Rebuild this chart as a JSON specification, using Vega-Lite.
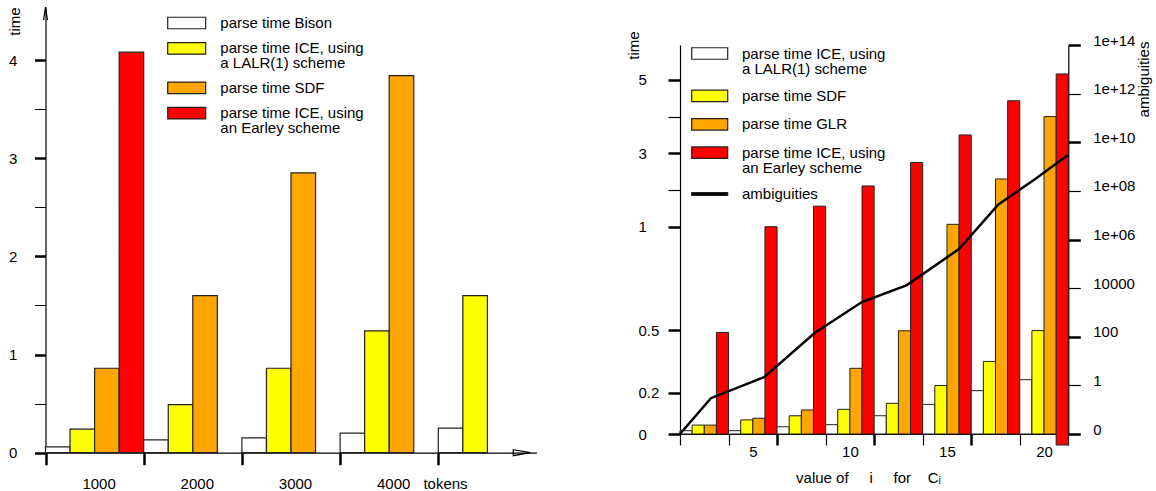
{
  "$schema": "https://vega.github.io/schema/vega-lite/v6.json",
  "width": 1156,
  "height": 491,
  "autosize": {"type": "none"},
  "padding": 0,
  "background": "white",
  "config": {
    "view": {"stroke": null},
    "font": "Liberation Sans",
    "axis": {"grid": false, "domainColor": "#000", "domainWidth": 1.2, "tickColor": "#000", "labelColor": "#000", "labelFontSize": 15, "titleFontSize": 15, "titleFontWeight": "normal", "titleColor": "#000", "labelFont": "Liberation Sans", "titleFont": "Liberation Sans"},
    "legend": {"labelFontSize": 15, "labelFont": "Liberation Sans", "labelColor": "#000", "padding": 0, "labelLimit": 400}
  },
  "layer": [
    {
      "data": {"values": [
        {"tokens": 1000, "series": "parse time Bison", "time": 0.06},
        {"tokens": 1000, "series": "parse time ICE, using a LALR(1) scheme", "time": 0.24},
        {"tokens": 1000, "series": "parse time SDF", "time": 0.86},
        {"tokens": 1000, "series": "parse time ICE, using an Earley scheme", "time": 4.08},
        {"tokens": 2000, "series": "parse time Bison", "time": 0.13},
        {"tokens": 2000, "series": "parse time ICE, using a LALR(1) scheme", "time": 0.49},
        {"tokens": 2000, "series": "parse time SDF", "time": 1.6},
        {"tokens": 3000, "series": "parse time Bison", "time": 0.15},
        {"tokens": 3000, "series": "parse time ICE, using a LALR(1) scheme", "time": 0.86},
        {"tokens": 3000, "series": "parse time SDF", "time": 2.85},
        {"tokens": 4000, "series": "parse time Bison", "time": 0.2},
        {"tokens": 4000, "series": "parse time ICE, using a LALR(1) scheme", "time": 1.24},
        {"tokens": 4000, "series": "parse time SDF", "time": 3.84},
        {"tokens": 5000, "series": "parse time Bison", "time": 0.25},
        {"tokens": 5000, "series": "parse time ICE, using a LALR(1) scheme", "time": 1.6}
      ]},
      "layer": [
        {
          "mark": {"type": "bar", "stroke": "#222", "strokeWidth": 1.2},
          "encoding": {
            "x": {"field": "tokens", "type": "ordinal",
              "scale": {"range": [45.5, 536.5], "paddingInner": 0, "paddingOuter": 0},
              "axis": {"orient": "bottom", "offset": -38.3, "tickBand": "extent", "tickSize": 12, "tickWidth": 2.5,
                "tickOpacity": {"condition": {"test": "datum.value == 5000", "value": 0}, "value": 1},
                "labelExpr": "datum.value == 5000 ? '' : datum.label", "labelOffset": 4, "labelPadding": 12, "labelAngle": 0,
                "title": "tokens", "titleX": 445, "titleY": 30.6, "titleBaseline": "middle", "titleAlign": "center"}},
            "xOffset": {"field": "series", "type": "nominal",
              "scale": {"domain": ["parse time Bison", "parse time ICE, using a LALR(1) scheme", "parse time SDF", "parse time ICE, using an Earley scheme"], "paddingInner": 0, "paddingOuter": 0}},
            "y": {"field": "time", "type": "quantitative",
              "scale": {"domain": [0, 4.54], "range": [452.7, 7], "nice": false, "zero": false},
              "axis": {"orient": "left", "offset": -45.5, "values": [0, 0.5, 1, 1.5, 2, 2.5, 3, 3.5, 4], "format": "~g", "tickSize": 11,
                "tickWidth": {"condition": {"test": "datum.value % 1 == 0", "value": 2.5}, "value": 1},
                "labelExpr": "datum.value % 1 == 0 ? datum.label : ''", "labelAlign": "left", "labelPadding": 26, "labelBaseline": "middle",
                "title": "time", "titleAngle": 270, "titleX": -30.7, "titleY": 21, "titleAlign": "center", "titleBaseline": "middle"}},
            "color": {"field": "series", "type": "nominal",
              "scale": {"domain": ["parse time Bison", "parse time ICE, using a LALR(1) scheme", "parse time SDF", "parse time ICE, using an Earley scheme"], "range": ["#ffffff", "#ffff00", "#ffa500", "#ff0000"]},
              "legend": {"orient": "none", "legendX": 178.7, "legendY": 15, "title": null,
                "symbolType": "M-2.714,-0.82H2.714V0.82H-2.714Z", "symbolSize": 196, "symbolStrokeColor": "#222", "symbolStrokeWidth": 1.2,
                "labelOffset": 25.6, "rowPadding": 7.4, "labelBaseline": "middle",
                "labelExpr": "indexof(datum.label, ', using ') > 0 ? [slice(datum.label, 0, indexof(datum.label, ', using ') + 7), slice(datum.label, indexof(datum.label, ', using ') + 8)] : datum.label",
                "encode": {"labels": {"update": {"lineHeight": {"value": 15}}}, "symbols": {"update": {"stroke": {"value": "#222"}, "strokeWidth": {"value": 1.2}}}}}}
          }
        },
        {
          "data": {"values": [{"arrow": "time axis"}]},
          "mark": {"type": "point", "shape": "M-0.3,1L0,-1L0.3,1", "size": 169, "filled": false, "stroke": "#000", "strokeWidth": 1.2, "opacity": 1},
          "encoding": {
            "x": {"datum": 1000, "type": "ordinal", "bandPosition": 0},
            "y": {"datum": 4.473, "type": "quantitative"}
          }
        },
        {
          "data": {"values": [{"arrow": "tokens axis"}]},
          "mark": {"type": "point", "shape": "M-1,-0.35L1,0L-1,0.35Z", "size": 289, "filled": false, "stroke": "#000", "strokeWidth": 1.2, "opacity": 1},
          "encoding": {
            "x": {"datum": 5000, "type": "ordinal", "bandPosition": 0.85},
            "y": {"datum": 0, "type": "quantitative"}
          }
        }
      ]
    },
    {
      "data": {"values": [
        {"i": 2.5, "series": "parse time ICE, using a LALR(1) scheme", "time": 0.016, "from": 0},
        {"i": 2.5, "series": "parse time SDF", "time": 0.043, "from": 0},
        {"i": 2.5, "series": "parse time GLR", "time": 0.043, "from": 0},
        {"i": 2.5, "series": "parse time ICE, using an Earley scheme", "time": 0.49, "from": 0},
        {"i": 5, "series": "parse time ICE, using a LALR(1) scheme", "time": 0.016, "from": 0},
        {"i": 5, "series": "parse time SDF", "time": 0.068, "from": 0},
        {"i": 5, "series": "parse time GLR", "time": 0.076, "from": 0},
        {"i": 5, "series": "parse time ICE, using an Earley scheme", "time": 1.0, "from": 0},
        {"i": 7.5, "series": "parse time ICE, using a LALR(1) scheme", "time": 0.035, "from": 0},
        {"i": 7.5, "series": "parse time SDF", "time": 0.088, "from": 0},
        {"i": 7.5, "series": "parse time GLR", "time": 0.116, "from": 0},
        {"i": 7.5, "series": "parse time ICE, using an Earley scheme", "time": 1.56, "from": 0},
        {"i": 10, "series": "parse time ICE, using a LALR(1) scheme", "time": 0.045, "from": 0},
        {"i": 10, "series": "parse time SDF", "time": 0.119, "from": 0},
        {"i": 10, "series": "parse time GLR", "time": 0.317, "from": 0},
        {"i": 10, "series": "parse time ICE, using an Earley scheme", "time": 2.11, "from": 0},
        {"i": 12.5, "series": "parse time ICE, using a LALR(1) scheme", "time": 0.088, "from": 0},
        {"i": 12.5, "series": "parse time SDF", "time": 0.148, "from": 0},
        {"i": 12.5, "series": "parse time GLR", "time": 0.498, "from": 0},
        {"i": 12.5, "series": "parse time ICE, using an Earley scheme", "time": 2.75, "from": 0},
        {"i": 15, "series": "parse time ICE, using a LALR(1) scheme", "time": 0.143, "from": 0},
        {"i": 15, "series": "parse time SDF", "time": 0.234, "from": 0},
        {"i": 15, "series": "parse time GLR", "time": 1.065, "from": 0},
        {"i": 15, "series": "parse time ICE, using an Earley scheme", "time": 3.5, "from": 0},
        {"i": 17.5, "series": "parse time ICE, using a LALR(1) scheme", "time": 0.209, "from": 0},
        {"i": 17.5, "series": "parse time SDF", "time": 0.35, "from": 0},
        {"i": 17.5, "series": "parse time GLR", "time": 2.3, "from": 0},
        {"i": 17.5, "series": "parse time ICE, using an Earley scheme", "time": 4.43, "from": 0},
        {"i": 20, "series": "parse time ICE, using a LALR(1) scheme", "time": 0.262, "from": 0},
        {"i": 20, "series": "parse time SDF", "time": 0.499, "from": 0},
        {"i": 20, "series": "parse time GLR", "time": 4.0, "from": 0},
        {"i": 20, "series": "parse time ICE, using an Earley scheme", "time": 5.16, "from": -0.053}
      ]},
      "mark": {"type": "bar", "stroke": "#222", "strokeWidth": 1},
      "encoding": {
        "x": {"field": "i", "type": "ordinal",
          "scale": {"range": [680, 1068.3], "paddingInner": 0, "paddingOuter": 0},
          "axis": {"orient": "bottom", "offset": -57, "tickBand": "extent", "tickSize": 11,
            "tickWidth": {"condition": {"test": "datum.value == 5 || datum.value == 10 || datum.value == 15", "value": 2.5}, "value": 1.2},
            "labelExpr": "datum.value % 5 == 0 ? datum.label : ''", "labelPadding": -0.5, "labelAngle": 0,
            "title": "value of\u00a0\u00a0\u00a0\u00a0\u00a0i\u00a0\u00a0\u00a0\u00a0\u00a0for\u00a0\u00a0\u00a0\u00a0Cᵢ", "titleX": 868, "titleY": 43, "titleBaseline": "middle", "titleAlign": "center"}},
        "xOffset": {"field": "series", "type": "nominal",
          "scale": {"domain": ["parse time ICE, using a LALR(1) scheme", "parse time SDF", "parse time GLR", "parse time ICE, using an Earley scheme"], "paddingInner": 0, "paddingOuter": 0}},
        "y": {"field": "time", "type": "quantitative",
          "scale": {"domain": [0, 1, 5.95], "range": [434, 226.7, 45], "nice": false, "zero": false},
          "axis": {"orient": "left", "offset": -680, "values": [0, 0.2, 0.5, 1, 2, 3, 4, 5], "format": "~g", "tickSize": 12,
            "tickWidth": {"condition": {"test": "datum.value == 2 || datum.value == 4", "value": 1.2}, "value": 2.5},
            "labelExpr": "datum.value == 2 || datum.value == 4 ? '' : datum.label", "labelAlign": "left", "labelPadding": 30, "labelBaseline": "middle",
            "title": "time", "titleAngle": 270, "titleX": -46.7, "titleY": 45, "titleAlign": "center", "titleBaseline": "middle"}},
        "y2": {"field": "from"},
        "color": {"field": "series", "type": "nominal",
          "scale": {"domain": ["parse time ICE, using a LALR(1) scheme", "parse time SDF", "parse time GLR", "parse time ICE, using an Earley scheme", "ambiguities"], "range": ["#ffffff", "#ffff00", "#ffa500", "#ff0000", "#000000"]},
          "legend": {"orient": "none", "legendX": 701.7, "legendY": 45.5, "title": null,
            "symbolType": "M-2.571,-0.82H2.571V0.82H-2.571Z", "symbolSize": 196, "symbolStrokeColor": "#222", "symbolStrokeWidth": 1.2,
            "labelOffset": 24.3, "rowPadding": 10.4, "labelBaseline": "middle",
            "labelExpr": "indexof(datum.label, ', using ') > 0 ? [slice(datum.label, 0, indexof(datum.label, ', using ') + 7), slice(datum.label, indexof(datum.label, ', using ') + 8)] : datum.label",
            "encode": {"labels": {"update": {"lineHeight": {"value": 15}}},
              "symbols": {"update": {"shape": {"signal": "datum.value === 'ambiguities' ? 'M-2.571,-0.2H2.571V0.2H-2.571Z' : 'M-2.571,-0.82H2.571V0.82H-2.571Z'"}, "stroke": {"value": "#222"}, "strokeWidth": {"value": 1.2}}}}}}
      }
    },
    {
      "data": {"values": [
        {"i": 1.25, "ambiguities": 0},
        {"i": 2.84, "ambiguities": 0.29},
        {"i": 5.58, "ambiguities": 2.2},
        {"i": 8.2, "ambiguities": 148},
        {"i": 10.62, "ambiguities": 2700},
        {"i": 12.94, "ambiguities": 13400},
        {"i": 15.62, "ambiguities": 410000},
        {"i": 17.65, "ambiguities": 28000000},
        {"i": 19.53, "ambiguities": 300000000},
        {"i": 21.25, "ambiguities": 3050000000}
      ]},
      "mark": {"type": "line", "color": "#000", "strokeWidth": 2.5},
      "encoding": {
        "x": {"field": "i", "type": "quantitative",
          "scale": {"domain": [1.25, 21.25], "range": [680, 1068.3], "nice": false, "zero": false}, "axis": null},
        "y": {"field": "ambiguities", "type": "quantitative",
          "scale": {"type": "symlog", "constant": 0.0101, "domain": [0, 100000000000000], "range": [434, 45], "nice": false, "zero": false},
          "axis": {"orient": "right", "offset": -87.7, "values": [0, 1, 100, 10000, 1000000, 100000000, 10000000000, 1000000000000, 100000000000000], "tickSize": 12,
            "tickWidth": {"condition": {"test": "datum.value == 0 || datum.value == 100 || datum.value == 1000000 || datum.value == 10000000000 || datum.value == 100000000000000", "value": 2.5}, "value": 1.2},
            "labelExpr": "datum.value >= 1000000 ? '1e+' + format(log(datum.value) / LN10, '02d') : format(datum.value, 'd')",
            "labelAlign": "left", "labelPadding": 12.4, "labelBaseline": "alphabetic",
            "title": "ambiguities", "titleAngle": 270, "titleX": 75, "titleY": 79, "titleAlign": "center", "titleBaseline": "middle"}}
      }
    }
  ],
  "resolve": {"scale": {"x": "independent", "y": "independent", "color": "independent", "xOffset": "independent"}}
}
